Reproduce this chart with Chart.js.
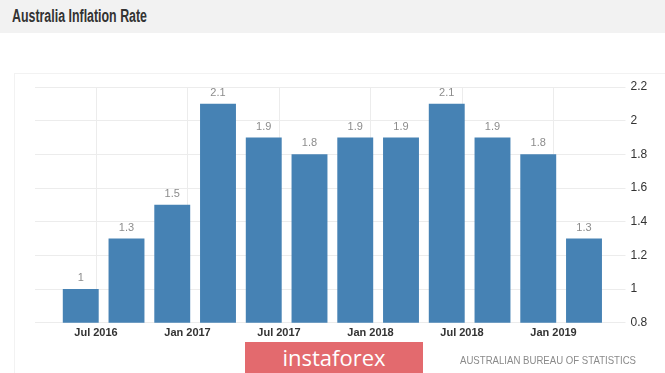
<!DOCTYPE html>
<html>
<head>
<meta charset="utf-8">
<script src="https://cdn.jsdelivr.net/npm/chart.js@4/dist/chart.umd.min.js"></script>
<style>
  html, body { margin: 0; padding: 0; background: #fff; }
  #wrap { position: relative; width: 665px; height: 373px; overflow: hidden; background: #fff; }
  #header { position: absolute; left: 0; top: 0; width: 665px; height: 33px; background: #f2f2f2; }
  #title { position: absolute; left: 12px; top: 6px; font-family: "Liberation Sans Narrow", "Liberation Sans", Arial, sans-serif; font-weight: bold; font-size: 18px; color: #333; white-space: nowrap; transform-origin: 0 0; }
  #panel { position: absolute; left: 14px; top: 73px; width: 700px; height: 400px; border-left: 1px solid #f2f2f2; border-top: 1px solid #f2f2f2; }
  #c { position: absolute; left: 0; top: 0; }
  #source { position: absolute; left: 460px; top: 354px; font-family: "Liberation Sans", Arial, sans-serif; font-size: 10.5px; color: #8a8a8a; white-space: nowrap; transform-origin: 0 0; }
  #logo { position: absolute; left: 245px; top: 342px; width: 178px; height: 31px; background: #e36a6e; }
  #logotext { position: absolute; left: 0; top: 0; width: 178px; height: 31px; line-height: 30px; text-align: center; font-family: "Open Sans", "Liberation Sans", sans-serif; font-size: 22px; color: #fff; }
</style>
</head>
<body>
<div id="wrap">
  <div id="header"><div id="title">Australia Inflation Rate</div></div>
  <div id="panel"></div>
  <canvas id="c" width="665" height="373"></canvas>
  <div id="logo"><div id="logotext">instaforex</div></div>
  <div id="source">AUSTRALIAN BUREAU OF STATISTICS</div>
</div>
<script>
// Quarterly periods (quarter-end months) and inflation values
const quarters = ['Jun 2016','Sep 2016','Dec 2016','Mar 2017','Jun 2017','Sep 2017','Dec 2017','Mar 2018','Jun 2018','Sep 2018','Dec 2018','Mar 2019'];
const inflation = [1.0, 1.3, 1.5, 2.1, 1.9, 1.8, 1.9, 1.9, 2.1, 1.9, 1.8, 1.3];
const xTickLabels = ['Jul 2016','Jan 2017','Jul 2017','Jan 2018','Jul 2018','Jan 2019'];
const yTicks = [0.8, 1.0, 1.2, 1.4, 1.6, 1.8, 2.0, 2.2];

const MONTHS = ['Jan','Feb','Mar','Apr','May','Jun','Jul','Aug','Sep','Oct','Nov','Dec'];
function monthIndex(label) {
  const [m, y] = label.split(' ');
  return (parseInt(y, 10) - 2016) * 12 + MONTHS.indexOf(m) - 5; // months since Jun 2016
}
const points = quarters.map((q, i) => ({ x: monthIndex(q), y: inflation[i] }));
const xTickVals = xTickLabels.map(monthIndex);

// fit title / source widths
(function(){
  const t = document.getElementById('title');
  const w = t.getBoundingClientRect().width;
  if (w > 0) t.style.transform = 'scaleX(' + (135 / w) + ')';
  const s = document.getElementById('source');
  const ws = s.getBoundingClientRect().width;
  if (ws > 0) s.style.transform = 'scaleX(' + (176 / ws) + ')';
})();

const valueLabels = {
  id: 'valueLabels',
  afterDatasetsDraw(chart) {
    const ctx = chart.ctx;
    const meta = chart.getDatasetMeta(0);
    ctx.save();
    ctx.font = '11px "Liberation Sans", Arial, sans-serif';
    ctx.fillStyle = '#8c8c8c';
    ctx.textAlign = 'center';
    ctx.textBaseline = 'middle';
    meta.data.forEach((el, i) => {
      const v = chart.data.datasets[0].data[i].y;
      ctx.fillText(String(v), el.x, el.y - 11);
    });
    ctx.restore();
  }
};

new Chart(document.getElementById('c'), {
  type: 'bar',
  data: {
    datasets: [{
      data: points,
      backgroundColor: '#4682b4',
      borderWidth: 0,
      barPercentage: 0.785,
      categoryPercentage: 1.0
    }]
  },
  options: {
    responsive: false,
    animation: false,
    devicePixelRatio: 1,
    layout: { padding: { left: 35, top: 87, right: 0, bottom: 0 } },
    plugins: { legend: { display: false }, tooltip: { enabled: false } },
    scales: {
      x: {
        type: 'linear',
        offset: false,
        min: -3,
        max: 35,
        afterBuildTicks(scale) { scale.ticks = xTickVals.map(v => ({ value: v })); },
        afterFit(scale) { scale.height = 50.3; },
        grid: { color: '#ececec', drawTicks: false, lineWidth: 1, offset: false },
        border: { display: false },
        ticks: {
          padding: 4,
          maxRotation: 0,
          color: '#333',
          font: { family: '"Liberation Sans", Arial, sans-serif', size: 11, weight: 'bold' },
          callback(v) { const i = xTickVals.indexOf(v); return i >= 0 ? xTickLabels[i] : ''; }
        }
      },
      y: {
        position: 'right',
        min: 0.8,
        max: 2.2,
        afterBuildTicks(scale) { scale.ticks = yTicks.map(v => ({ value: v })); },
        afterFit(scale) { scale.width = 50.5; },
        grid: { color: '#ececec', tickLength: 11, lineWidth: 1 },
        border: { display: false },
        ticks: {
          padding: 5,
          color: '#333',
          font: { family: '"Liberation Sans", Arial, sans-serif', size: 12 },
          callback(v) { return String(Math.round(v * 10) / 10); }
        }
      }
    }
  },
  plugins: [valueLabels]
});
</script>
</body>
</html>
